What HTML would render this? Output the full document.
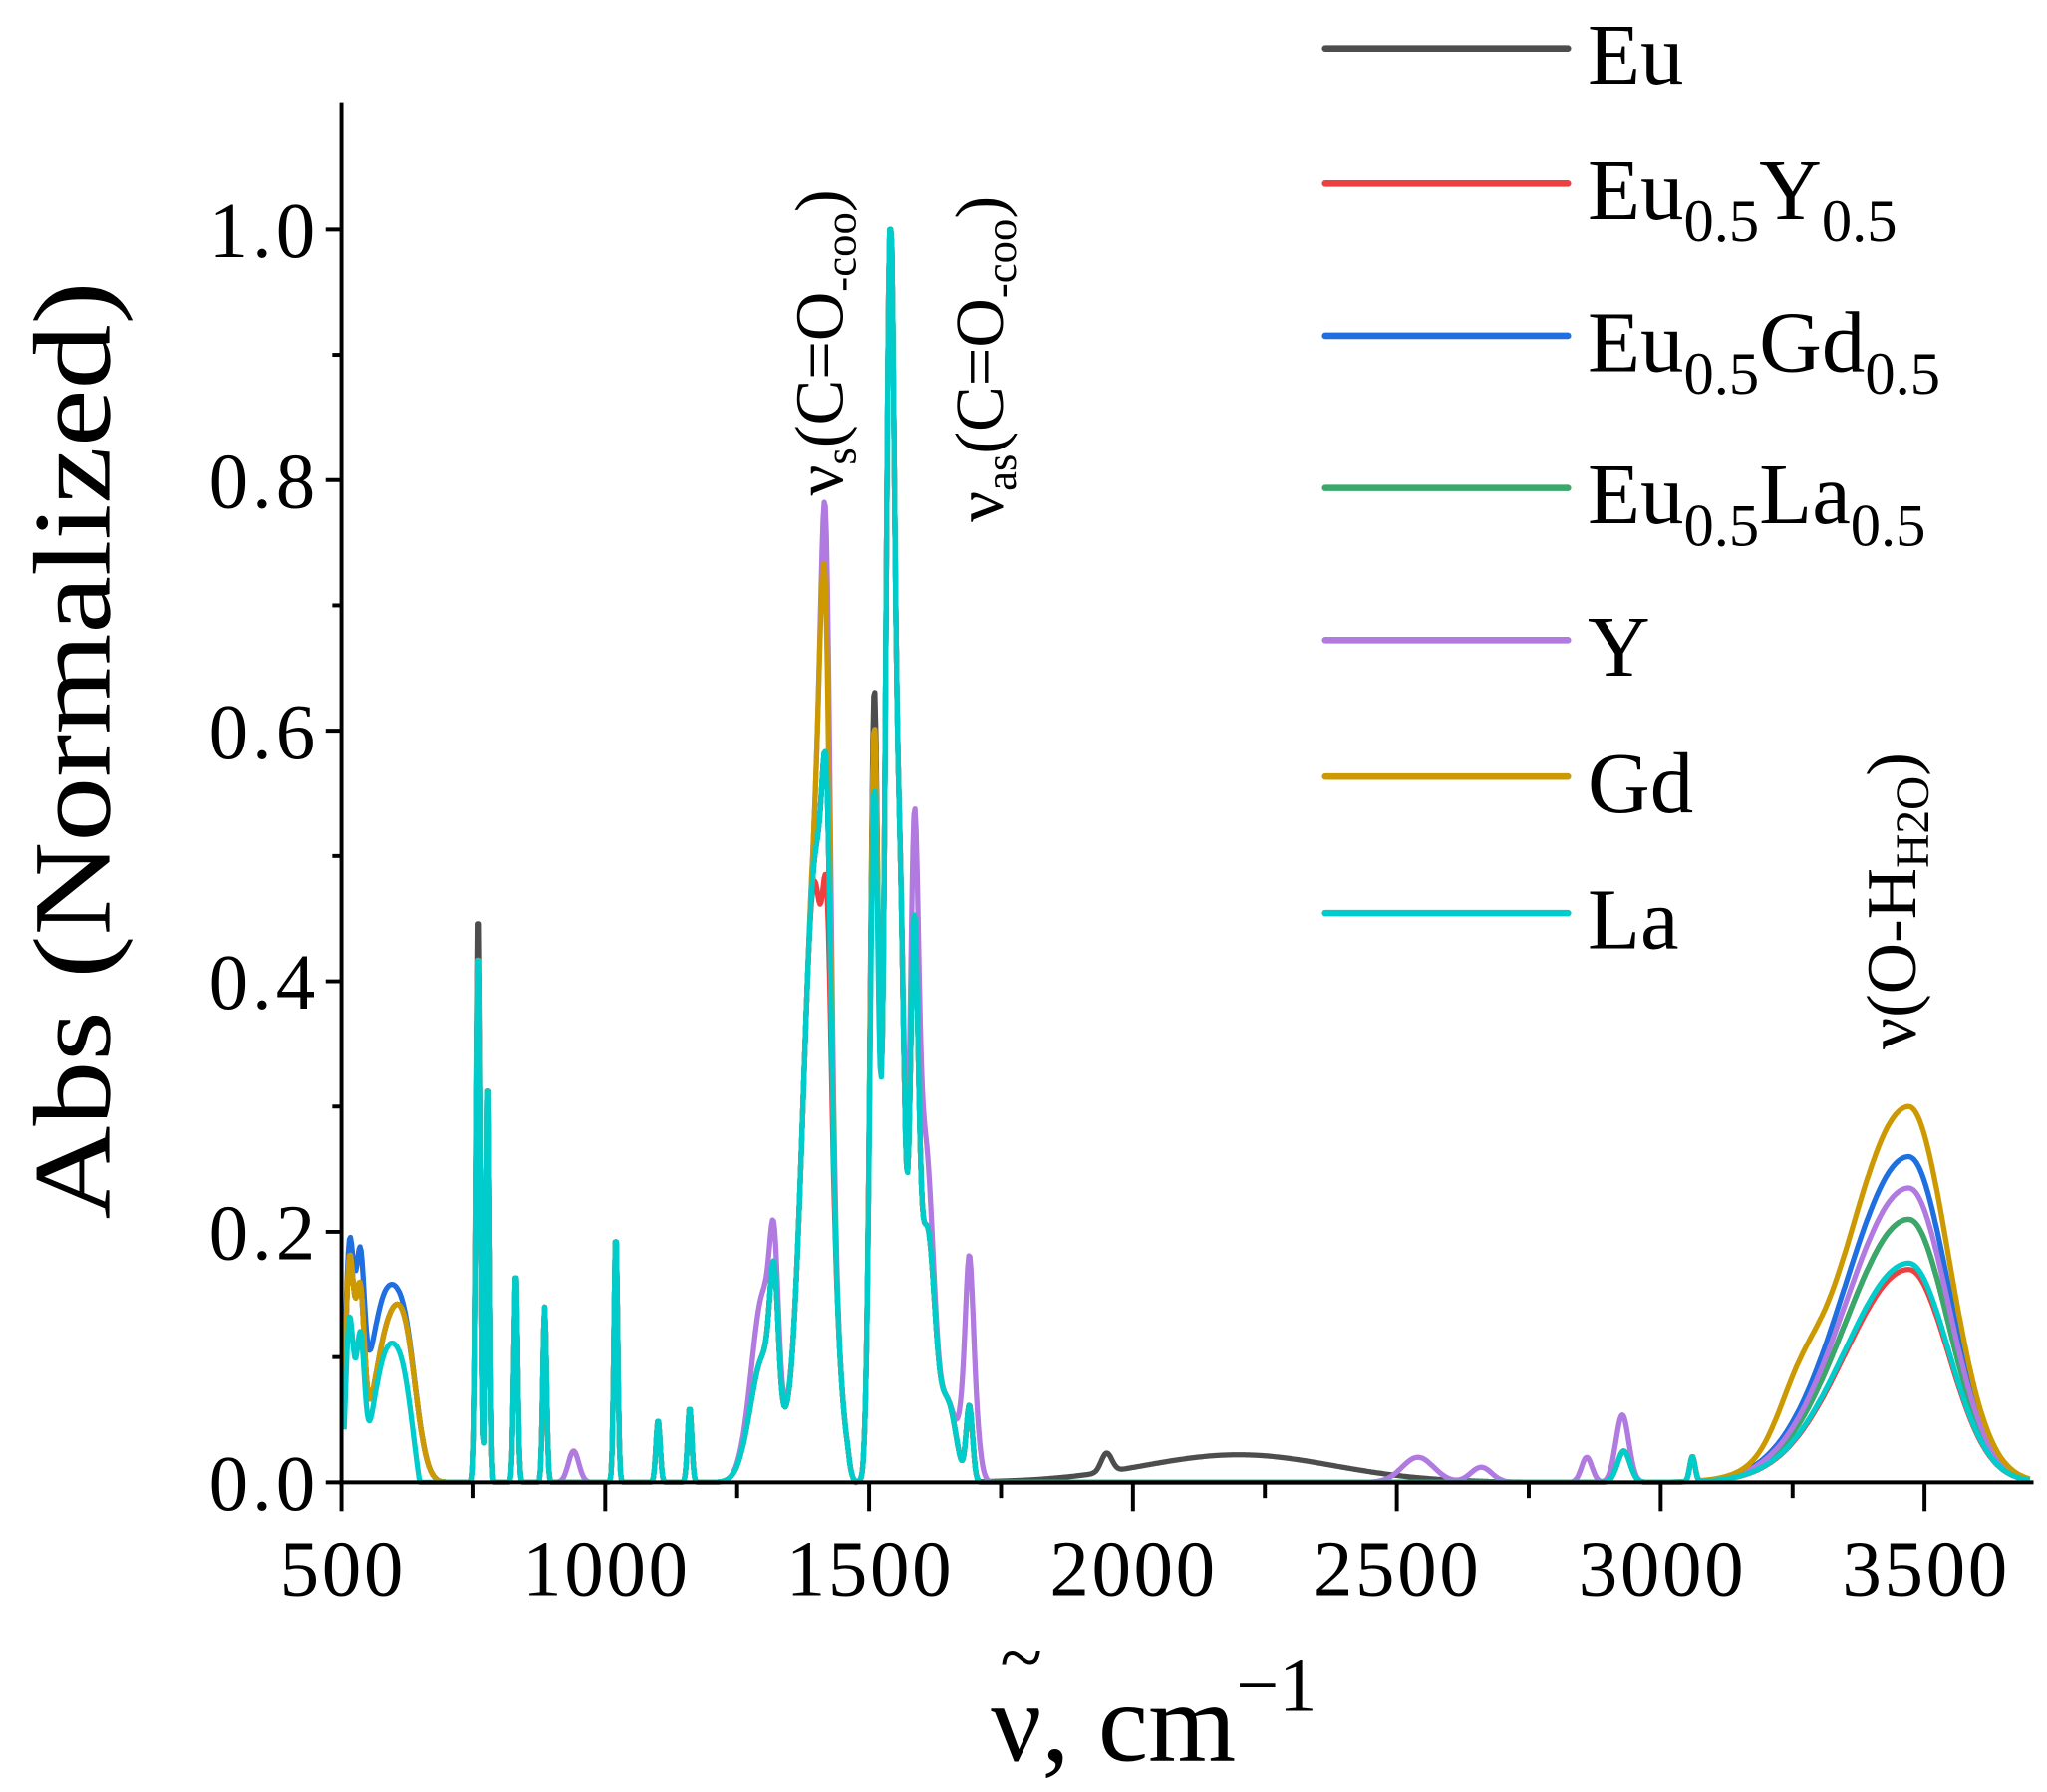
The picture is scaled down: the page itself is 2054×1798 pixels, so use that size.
<!DOCTYPE html>
<html><head><meta charset="utf-8"><style>
html,body{margin:0;padding:0;background:#fff}
svg{display:block}
text{font-family:"Liberation Serif",serif;fill:#000}
</style></head><body>
<svg id="s" width="2054" height="1798" viewBox="0 0 1560 1366" xmlns="http://www.w3.org/2000/svg">
<g id="series" fill="none" stroke-width="4" stroke-linejoin="round"></g>
<g stroke="#000" stroke-width="3" fill="none">
<line x1="260" y1="78" x2="260" y2="1132"/>
<line x1="258" y1="1130" x2="1550" y2="1130"/>
</g>
<g id="ticks" stroke="#000" stroke-width="3"></g>
<g font-size="60" text-anchor="end" letter-spacing="3">
<text x="243" y="1151">0.0</text>
<text x="243" y="960">0.2</text>
<text x="243" y="769">0.4</text>
<text x="243" y="578">0.6</text>
<text x="243" y="387">0.8</text>
<text x="243" y="196">1.0</text>
</g>
<g font-size="60" text-anchor="middle" letter-spacing="2">
<text x="261" y="1216">500</text>
<text x="462" y="1216">1000</text>
<text x="663" y="1216">1500</text>
<text x="864" y="1216">2000</text>
<text x="1065" y="1216">2500</text>
<text x="1267" y="1216">3000</text>
<text x="1468" y="1216">3500</text>
</g>
<text transform="translate(83,572) rotate(-90)" font-size="84" text-anchor="middle" textLength="715" lengthAdjust="spacingAndGlyphs">Abs (Normalized)</text>
<text x="755" y="1342" font-size="86">ν, cm<tspan dy="-38" font-size="58">−1</tspan></text>
<text x="762" y="1284" font-size="60">~</text>
<text transform="translate(642,378) rotate(-90)" font-size="52">ν<tspan font-size="34" dy="10">s</tspan><tspan dy="-10">(C=O</tspan><tspan font-size="34" dy="10">-coo</tspan><tspan dy="-10">)</tspan></text>
<text transform="translate(764,398) rotate(-90)" font-size="52">ν<tspan font-size="34" dy="10">as</tspan><tspan dy="-10">(C=O</tspan><tspan font-size="34" dy="10">-coo</tspan><tspan dy="-10">)</tspan></text>
<text transform="translate(1460,800) rotate(-90)" font-size="54">ν(O-H<tspan font-size="36" dy="10">H2O</tspan><tspan dy="-10">)</tspan></text>
<g stroke-width="5" stroke-linecap="round">
<line x1="1010" y1="37" x2="1195" y2="37" stroke="#4d4d4d"/>
<line x1="1010" y1="140" x2="1195" y2="140" stroke="#ee4040"/>
<line x1="1010" y1="256" x2="1195" y2="256" stroke="#1f6fe0"/>
<line x1="1010" y1="372" x2="1195" y2="372" stroke="#3aa86a"/>
<line x1="1010" y1="488" x2="1195" y2="488" stroke="#b07ae0"/>
<line x1="1010" y1="592" x2="1195" y2="592" stroke="#cc9a00"/>
<line x1="1010" y1="696" x2="1195" y2="696" stroke="#00cccc"/>
</g>
<g font-size="66">
<text x="1210" y="64">Eu</text>
<text x="1210" y="167">Eu<tspan font-size="46" dy="17">0.5</tspan><tspan dy="-17">Y</tspan><tspan font-size="46" dy="17">0.5</tspan></text>
<text x="1210" y="283">Eu<tspan font-size="46" dy="17">0.5</tspan><tspan dy="-17">Gd</tspan><tspan font-size="46" dy="17">0.5</tspan></text>
<text x="1210" y="399">Eu<tspan font-size="46" dy="17">0.5</tspan><tspan dy="-17">La</tspan><tspan font-size="46" dy="17">0.5</tspan></text>
<text x="1210" y="515">Y</text>
<text x="1210" y="619">Gd</text>
<text x="1210" y="723">La</text>
</g>
</svg>
<script>
(function(){
var NS="http://www.w3.org/2000/svg";
var tk=document.getElementById("ticks");
function ln(a,b,c,d){var l=document.createElementNS(NS,"line");l.setAttribute("x1",a);l.setAttribute("y1",b);l.setAttribute("x2",c);l.setAttribute("y2",d);tk.appendChild(l);}
for(var i=0;i<=10;i++){var y=1130-i*95.5;ln(260,y,i%2==0?248:253,y);}
for(var v=500;v<=3700;v+=250){var x=260+(v-500)*0.4023;ln(x,1130,x,(v%500==0)?1152:1142);}
var X=function(v){return 260+(v-500)*0.4023},Y=function(a){return 1130-a*955};
var base=[[515,0.17,8],[535,0.13,8],[590,0.12,30],[625,0.06,20],[760,0.43,4],[778,0.33,3],[830,0.17,3.5],[885,0.14,3.5],[1020,0.2,3.5],[1100,0.05,4],[1160,0.06,4],
[1300,0.1,25],[1320,0.1,8],[1400,0.5,25],[1420,0.2,8],[1510,0.6,8],[1540,1.0,9],[1560,0.4,8],[1585,0.4,8],[1610,0.2,15],[1650,0.06,15],[1690,0.06,6],[2930,0.025,12],[3060,0.02,5]];
var S=[
{c:"#4d4d4d",oh:0.21,e:[[2200,0.022,180],[1950,0.015,10],[760,0.03,4],[1510,0.03,6]]},
{c:"#ee4040",oh:0.17,e:[[1415,-0.1,10]]},
{c:"#1f6fe0",oh:0.26,e:[[560,0.04,30]]},
{c:"#3aa86a",oh:0.21,e:[]},
{c:"#b07ae0",oh:0.235,e:[[1690,0.12,12],[1595,0.1,15],[2540,0.02,30],[2660,0.012,20],[2860,0.02,10],[2925,0.03,12],[940,0.025,10],[1415,0.2,10],[1300,0.05,20]]},
{c:"#cc9a00",oh:0.30,e:[[1412,0.16,9],[3260,0.03,40]]},
{c:"#00cccc",oh:0.175,e:[[520,-0.05,20],[640,-0.05,40],[1510,-0.05,6]]}];
var g=document.getElementById("series");
S.forEach(function(s){
 var pk=base.concat(s.e);var d="";
 for(var v=505;v<=3700;v+=2){
  var a=0;pk.forEach(function(q){var t=(v-q[0])/q[2];a+=q[1]*Math.exp(-0.5*t*t);});
  var t=(v-3470)/(v<3470?120:75);a+=s.oh*Math.exp(-0.5*t*t);
  if(v>1460&&v<1490)a*=Math.abs(v-1475)/15;
  if(a>1)a=1;if(a<0)a=0;
  d+=(d?"L":"M")+X(v).toFixed(1)+" "+Y(a).toFixed(1);
 }
 var p=document.createElementNS(NS,"path");p.setAttribute("d",d);p.setAttribute("stroke",s.c);g.appendChild(p);
});
})();
</script>
</body></html>
